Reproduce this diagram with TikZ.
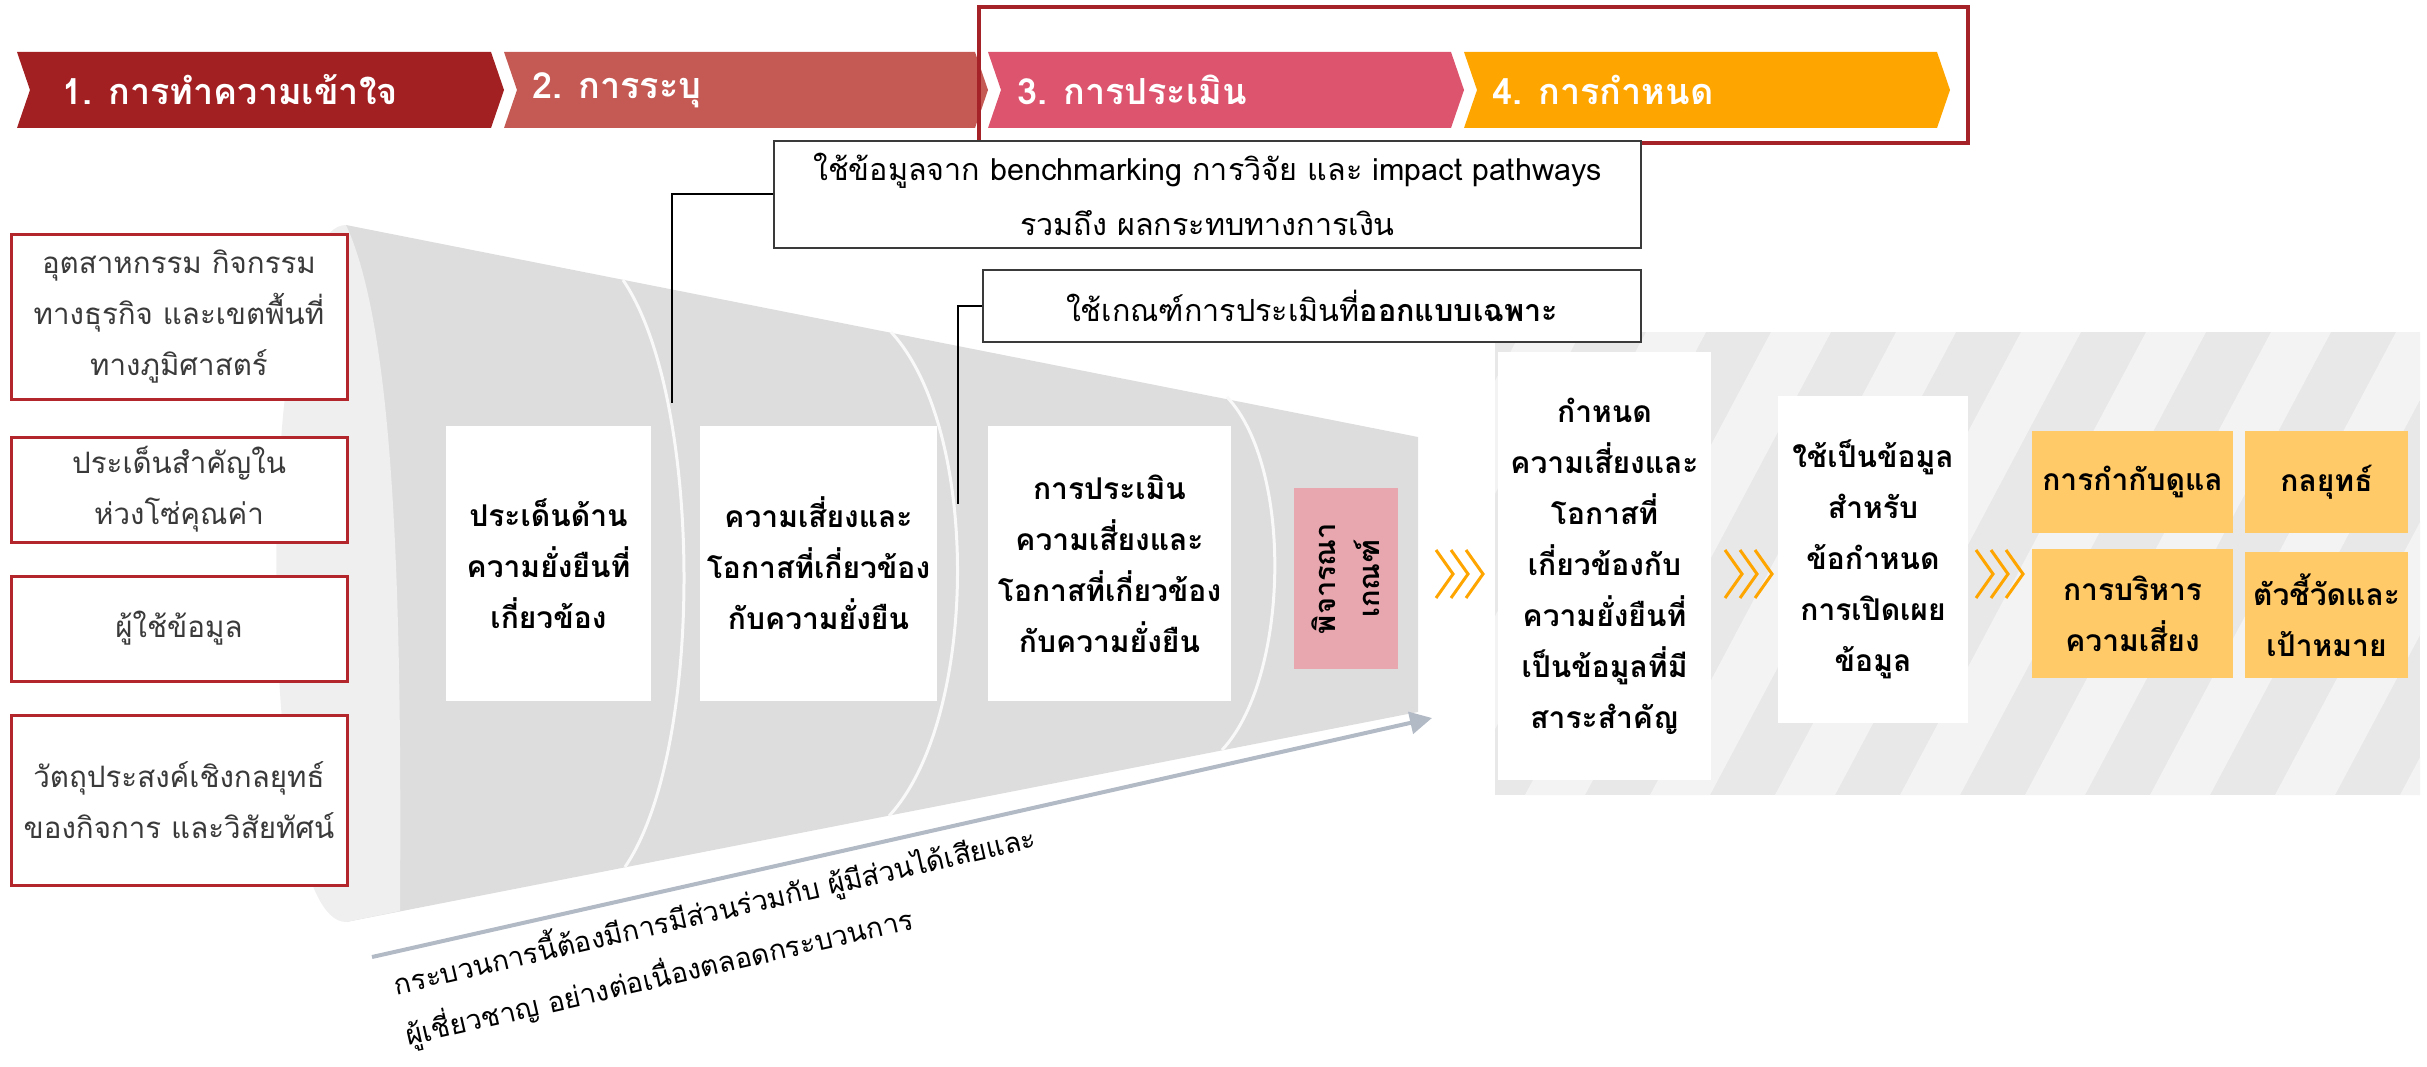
\documentclass[tikz,border=0pt]{standalone}
\usepackage{fontspec}
\setmainfont[Script=Thai]{Loma}
\usetikzlibrary{arrows.meta}

\definecolor{hdrA}{HTML}{A21F22}
\definecolor{hdrB}{HTML}{C55A55}
\definecolor{hdrC}{HTML}{DC546E}
\definecolor{hdrD}{HTML}{FFA500}
\definecolor{frameRed}{HTML}{A52328}
\definecolor{boxRed}{HTML}{B3262B}
\definecolor{txtGray}{HTML}{3A3A3A}
\definecolor{funnelDark}{HTML}{DDDDDD}
\definecolor{funnelLight}{HTML}{EFEFEF}
\definecolor{pinkBox}{HTML}{E8A6AE}
\definecolor{yellowBox}{HTML}{FFCA67}
\definecolor{arrowGray}{HTML}{B2BAC6}
\definecolor{stripeBase}{HTML}{E8E8E8}
\definecolor{stripeLight}{HTML}{F3F3F3}

\tikzset{
  hdrtext/.style={text=white, font=\fontsize{36}{42}\selectfont\bfseries, anchor=west, inner sep=0pt},
  srcbox/.style={draw=boxRed, line width=3pt, fill=white, text=txtGray, align=center,
                 font=\fontsize{29.5}{51}\selectfont, inner sep=0pt, minimum width=336pt},
  stagebox/.style={fill=white, align=center, font=\fontsize{30}{51}\selectfont\bfseries, inner sep=0pt},
  notebox/.style={draw=txtGray, line width=2.5pt, fill=white, align=center,
                  font=\fontsize{30.5}{55}\selectfont, inner sep=0pt},
  outbox/.style={fill=yellowBox, align=center, font=\fontsize{30}{51}\selectfont\bfseries, inner sep=0pt},
  leader/.style={draw=black, line width=2pt},
  flowchev/.style={draw=hdrD, line width=3pt},
  divider/.style={draw=white!60!funnelLight, line width=3pt},
  progress/.style={draw=arrowGray, line width=4pt, -{Triangle[length=22pt, width=22pt]}},
}

\begin{document}
\begin{tikzpicture}[x=1pt, y=-1pt]
\useasboundingbox (0,0) rectangle (2427,1067);

% ---- phase chevrons ----
\fill[hdrA] (17,52) -- (491,52) -- (504,90) -- (491,128) -- (17,128) -- (30,90) -- cycle;
\fill[hdrB] (504,52) -- (975,52) -- (988,90) -- (975,128) -- (504,128) -- (517,90) -- cycle;
\fill[hdrC] (988,52) -- (1451,52) -- (1464,90) -- (1451,128) -- (988,128) -- (1001,90) -- cycle;
\fill[hdrD] (1464,52) -- (1937,52) -- (1950,90) -- (1937,128) -- (1464,128) -- (1477,90) -- cycle;
\node[hdrtext] (h1) at (62,90) {1. การทำความเข้าใจ};
\node[hdrtext] (h2) at (532,90) {2. การระบุ};
\node[hdrtext] (h3) at (1017,90) {3. การประเมิน};
\node[hdrtext] (h4) at (1492,90) {4. การกำหนด};
\draw[frameRed, line width=4pt] (979,7) rectangle (1968,143);

% ---- funnel ----
\fill[funnelDark] (346,225) -- (1418,437) -- (1418,712) -- (346,922) -- cycle;
\fill[funnelLight] (346,225) .. controls (253,225) and (253,922) .. (346,922)
  -- (400,911) .. controls (402,600) and (395,330) .. (346,225) -- cycle;
\draw[divider] (623,280) .. controls (703,397) and (705,750) .. (625,867);
\draw[divider] (891,332) .. controls (981,429) and (979,719) .. (889,816);
\draw[divider] (1227,397) .. controls (1294,468) and (1289,679) .. (1222,750);

% ---- striped panel ----
\begin{scope}
  \clip (1495,332) rectangle (2420,795);
  \fill[stripeBase] (1495,332) rectangle (2420,795);
  \foreach \x in {1150,1275,...,2500}
    \fill[stripeLight] (\x,795) -- (\x+60,795) -- (\x+306,332) -- (\x+246,332) -- cycle;
\end{scope}

% ---- input boxes ----
\node[srcbox, minimum height=164pt] (s1) at (179,317) {อุตสาหกรรม กิจกรรม\\ทางธุรกิจ และเขตพื้นที่\\ทางภูมิศาสตร์};
\node[srcbox, minimum height=105pt] (s2) at (179,489.5) {ประเด็นสำคัญใน\\ห่วงโซ่คุณค่า};
\node[srcbox, minimum height=105pt] (s3) at (179,628.5) {ผู้ใช้ข้อมูล};
\node[srcbox, minimum height=170pt] (s4) at (179,800) {วัตถุประสงค์เชิงกลยุทธ์\\ของกิจการ และวิสัยทัศน์};

% ---- funnel stages ----
\node[stagebox, minimum width=205pt, minimum height=275pt] (bA) at (548.5,563.5) {ประเด็นด้าน\\ความยั่งยืนที่\\เกี่ยวข้อง};
\node[stagebox, minimum width=237pt, minimum height=275pt] (bB) at (818.5,563.5) {ความเสี่ยงและ\\โอกาสที่เกี่ยวข้อง\\กับความยั่งยืน};
\node[stagebox, minimum width=243pt, minimum height=275pt] (bC) at (1109.5,563.5) {การประเมิน\\ความเสี่ยงและ\\โอกาสที่เกี่ยวข้อง\\กับความยั่งยืน};
\node[fill=pinkBox, rotate=90, minimum width=181pt, minimum height=104pt, inner sep=0pt,
      align=center, font=\fontsize{29}{44}\selectfont\bfseries] (crit) at (1346,578.5) {พิจารณา\\เกณฑ์};

% ---- outcome stages ----
\node[stagebox, minimum width=213pt, minimum height=428pt] (bD) at (1604.5,566) {กำหนด\\ความเสี่ยงและ\\โอกาสที่\\เกี่ยวข้องกับ\\ความยั่งยืนที่\\เป็นข้อมูลที่มี\\สาระสำคัญ};
\node[stagebox, minimum width=190pt, minimum height=327pt] (bE) at (1873,559.5) {ใช้เป็นข้อมูล\\สำหรับ\\ข้อกำหนด\\การเปิดเผย\\ข้อมูล};
\node[outbox, minimum width=201pt, minimum height=102pt] (y1) at (2132.5,482) {การกำกับดูแล};
\node[outbox, minimum width=163pt, minimum height=102pt] (y2) at (2326.5,482) {กลยุทธ์};
\node[outbox, minimum width=201pt, minimum height=129pt] (y3) at (2132.5,613.5) {การบริหาร\\ความเสี่ยง};
\node[outbox, minimum width=163pt, minimum height=126pt] (y4) at (2326.5,615) {ตัวชี้วัดและ\\เป้าหมาย};

% ---- flow chevrons ----
\foreach \x in {1436,1725,1976}
  \foreach \i in {0,1,2}
    \draw[flowchev] (\x+15*\i,550) -- (\x+17+15*\i,574) -- (\x+15*\i,598);

% ---- notes and leaders ----
\node[notebox, minimum width=867pt, minimum height=107pt] (n1) at (1207.5,194.5) {ใช้ข้อมูลจาก benchmarking การวิจัย และ impact pathways\\รวมถึง ผลกระทบทางการเงิน};
\node[notebox, minimum width=658pt, minimum height=72pt] (n2) at (1312,306) {ใช้เกณฑ์การประเมินที่\textbf{ออกแบบเฉพาะ}};
\coordinate (l1) at (672,403);
\coordinate (l2) at (958,504);
\draw[leader] (n1.west) -| (l1);
\draw[leader] (n2.west) -| (l2);

% ---- engagement arrow ----
\coordinate (pa) at (372,957);
\coordinate (pb) at (1432,718);
\draw[progress] (pa) -- (pb);
\node[rotate=13, anchor=north west, align=left, inner sep=0pt,
      font=\fontsize{28}{52}\selectfont] (eng) at (390,966)
  {กระบวนการนี้ต้องมีการมีส่วนร่วมกับ ผู้มีส่วนได้เสียและ\\ผู้เชี่ยวชาญ อย่างต่อเนื่องตลอดกระบวนการ};
\end{tikzpicture}
\end{document}
